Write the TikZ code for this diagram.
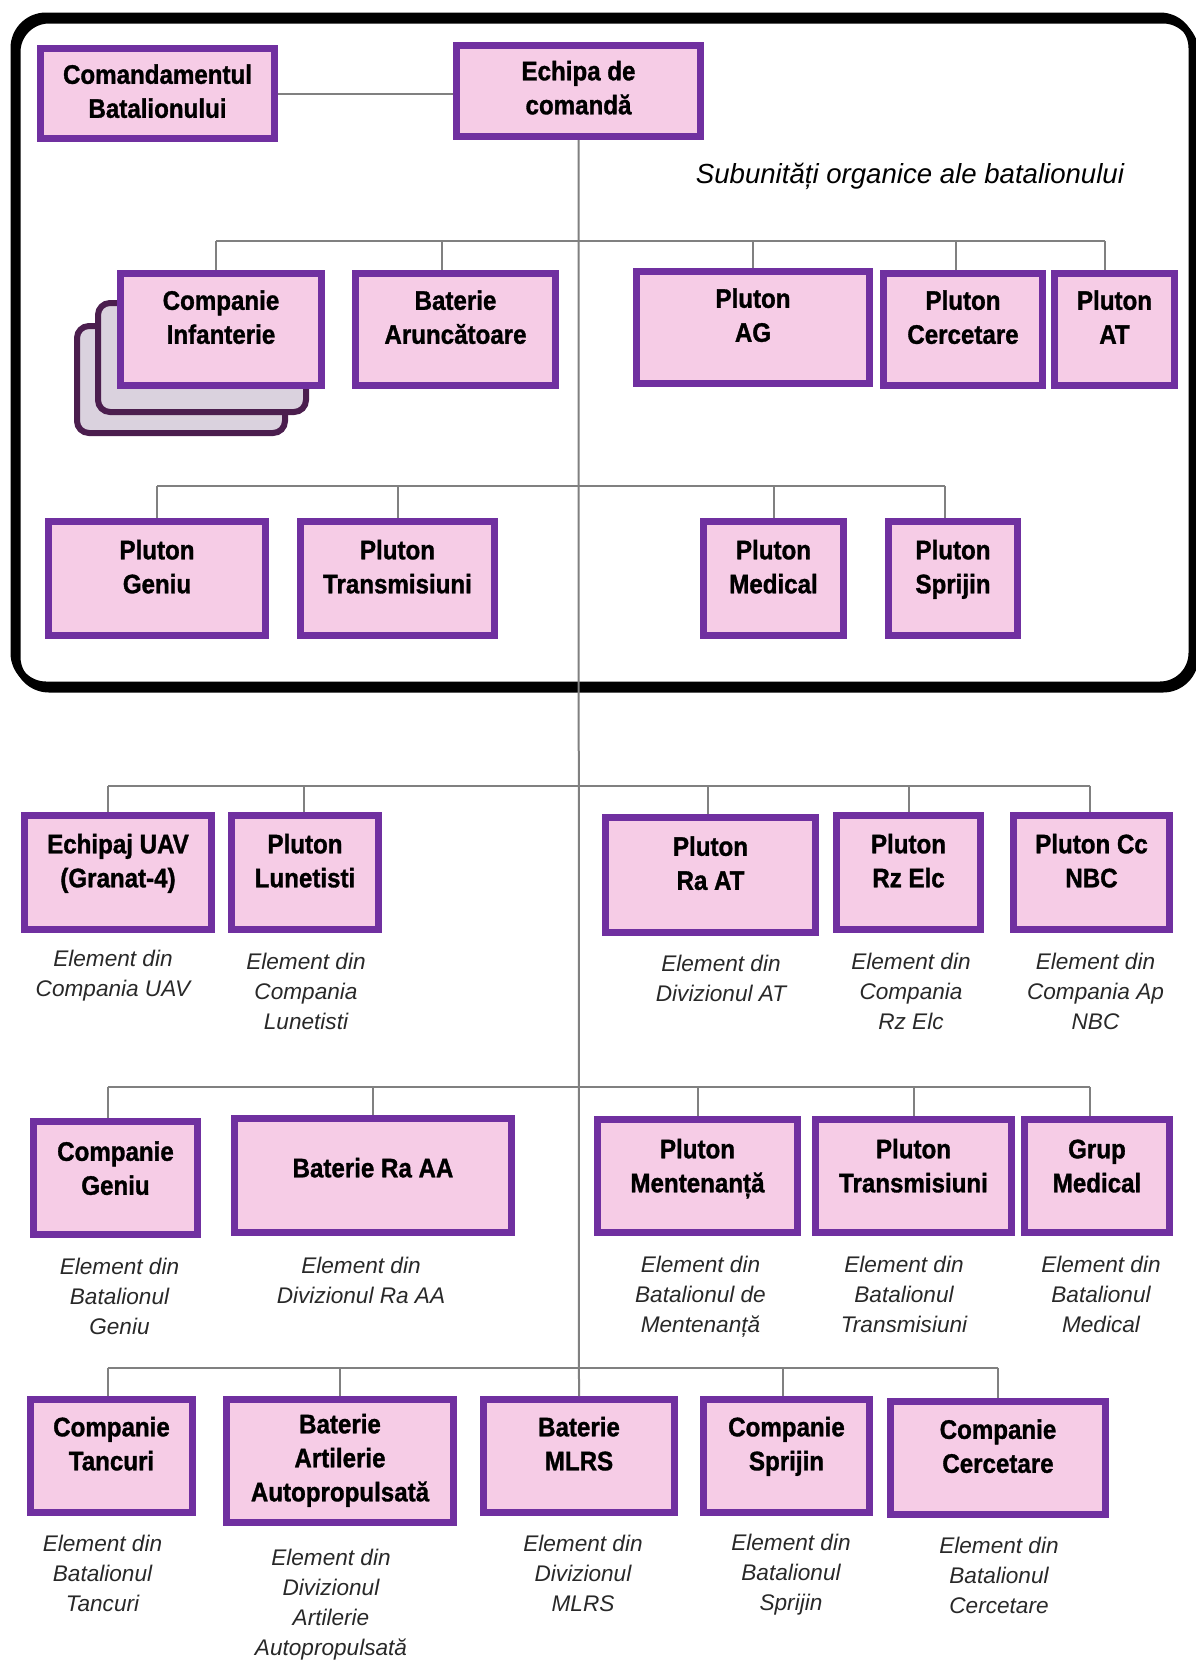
\documentclass[tikz,border=0pt]{standalone}
\usepackage{fontspec}
\setmainfont{Liberation Sans}
\newfontfamily\boxfont{Liberation Sans Bold}[FakeStretch=0.9, FakeBold=1.2]
\definecolor{boxpurple}{RGB}{112,48,160}
\definecolor{boxpink}{RGB}{246,204,230}
\definecolor{conncol}{RGB}{128,128,128}
\definecolor{cardborder}{RGB}{75,30,78}
\definecolor{cardfill}{RGB}{218,210,222}
\definecolor{captcol}{RGB}{40,40,40}
\tikzset{
  ubx/.style={draw=boxpurple, fill=boxpink, line width=3.5pt, inner sep=0pt},
  utx/.style={font=\boxfont\fontsize{13.4}{17}\selectfont, align=center, inner sep=0pt, text=black},
  captxt/.style={font=\itshape\fontsize{11.3}{15}\selectfont, align=center, inner sep=0pt, text=captcol},
  conn/.style={draw=conncol, line width=1pt},
  stackcard/.style={draw=cardborder, fill=cardfill, line width=3pt, rounded corners=6pt},
  outerframe/.style={draw=black, line width=3.5pt, rounded corners=16pt}
}
\newcommand\ubox[7]{%
  \node[ubx, minimum width={(#4-#2-7)*0.5pt}, minimum height={(#5-#3-7)*0.5pt}] (#1) at ({(#2+#4)/2},{(#3+#5)/2}) {};
  \node[utx] (#1t) at ({(#2+#4)/2},{#6+3}) {\strut#7\strut};
}
\begin{document}
\begin{tikzpicture}[x=0.5pt,y=-0.5pt]
\useasboundingbox (0,0) rectangle (1195,1660);
% frame with shadow
\draw[outerframe] (17,20) rectangle (1195,689);
\draw[outerframe] (14,16) rectangle (1192,685);
% stacked cards behind Companie Infanterie
\draw[stackcard] (77,326) rectangle (285,433);
\draw[stackcard] (98,303) rectangle (306,412);
% row 0
\ubox{cmd}{37}{45}{278}{142}{91}{Comandamentul\\Batalionului}
\ubox{ech}{453}{42}{704}{140}{87.5}{Echipa de\\comandă}
\node[font=\itshape\fontsize{13.8}{16}\selectfont, inner sep=0pt] (title) at (910,176) {Subunități organice ale batalionului};
% row 1
\ubox{cinf}{117}{270}{325}{389}{317}{Companie\\Infanterie}
\ubox{batar}{352}{270}{559}{389}{317}{Baterie\\Aruncătoare}
\ubox{plag}{633}{268}{873}{387}{315}{Pluton\\AG}
\ubox{plcerc}{880}{270}{1046}{389}{317}{Pluton\\Cercetare}
\ubox{plat}{1051}{270}{1178}{389}{317}{Pluton\\AT}
% row 2
\ubox{plgen}{45}{518}{269}{639}{566.5}{Pluton\\Geniu}
\ubox{pltr}{297}{518}{498}{639}{566.5}{Pluton\\Transmisiuni}
\ubox{plmed}{700}{518}{847}{639}{566.5}{Pluton\\Medical}
\ubox{plspr}{885}{518}{1021}{639}{566.5}{Pluton\\Sprijin}
% row 3
\ubox{uav}{21}{812}{215}{933}{860.5}{Echipaj UAV\\(Granat-4)}
\ubox{lun}{228}{812}{382}{933}{860.5}{Pluton\\Lunetisti}
\ubox{raat}{602}{814}{819}{936}{863}{Pluton\\Ra AT}
\ubox{rzelc}{833}{812}{984}{933}{860.5}{Pluton\\Rz Elc}
\ubox{nbc}{1010}{812}{1173}{933}{860.5}{Pluton Cc\\NBC}
% row 4
\ubox{cgen}{30}{1118}{201}{1238}{1168}{Companie\\Geniu}
\ubox{raaa}{231}{1115}{515}{1236}{1167.5}{Baterie Ra AA}
\ubox{ment}{594}{1116}{801}{1236}{1165.5}{Pluton\\Mentenanță}
\ubox{tr2}{812}{1116}{1015}{1236}{1165.5}{Pluton\\Transmisiuni}
\ubox{gmed}{1021}{1116}{1173}{1236}{1165.5}{Grup\\Medical}
% row 5
\ubox{tanc}{27}{1396}{196}{1516}{1443.5}{Companie\\Tancuri}
\ubox{art}{223}{1396}{457}{1526}{1457.5}{Baterie\\Artilerie\\Autopropulsată}
\ubox{mlrs}{480}{1396}{678}{1516}{1443.5}{Baterie\\MLRS}
\ubox{cspr}{700}{1396}{873}{1516}{1443.5}{Companie\\Sprijin}
\ubox{ccerc}{887}{1398}{1109}{1518}{1446}{Companie\\Cercetare}
% captions
\node[captxt] (uavc) at (113,975.5) {Element din\\Compania UAV};
\node[captxt] (lunc) at (306,991) {Element din\\Compania\\Lunetisti};
\node[captxt] (raatc) at (721,978) {Element din\\Divizionul AT};
\node[captxt] (rzelcc) at (911,991) {Element din\\Compania\\Rz Elc};
\node[captxt] (nbcc) at (1095.5,991) {Element din\\Compania Ap\\NBC};
\node[captxt] (cgenc) at (119.5,1296.5) {Element din\\Batalionul\\Geniu};
\node[captxt] (raaac) at (361,1280) {Element din\\Divizionul Ra AA};
\node[captxt] (mentc) at (700.5,1296.5) {Element din\\Batalionul de\\Mentenanță};
\node[captxt] (tr2c) at (904,1294.5) {Element din\\Batalionul\\Transmisiuni};
\node[captxt] (gmedc) at (1101,1294.5) {Element din\\Batalionul\\Medical};
\node[captxt] (tancc) at (102.5,1573) {Element din\\Batalionul\\Tancuri};
\node[captxt] (artc) at (331,1604.5) {Element din\\Divizionul\\Artilerie\\Autopropulsată};
\node[captxt] (mlrsc) at (583,1573) {Element din\\Divizionul\\MLRS};
\node[captxt] (csprc) at (791,1575) {Element din\\Batalionul\\Sprijin};
\node[captxt] (ccercc) at (999,1575) {Element din\\Batalionul\\Cercetare};
% bus coordinates
\coordinate (bus1) at (580,241);
\coordinate (bus2) at (580,486);
\coordinate (bus3) at (580,785.5);
\coordinate (bus4) at (580,1087);
\coordinate (bus5) at (580,1367.5);
% connectors
\draw[conn] (cmd.east) -- (cmd.east -| ech.west);
\draw[conn] (ech.south) -- (mlrs.north);
% row 1
\draw[conn] ([xshift=-2.5pt]cinf.north |- bus1) -- ([xshift=-5pt]plat.north |- bus1);
\draw[conn] ([xshift=-2.5pt]cinf.north |- bus1) -- ([xshift=-2.5pt]cinf.north);
\draw[conn] ([xshift=-7pt]batar.north |- bus1) -- ([xshift=-7pt]batar.north);
\draw[conn] (plag.north |- bus1) -- (plag.north);
\draw[conn] ([xshift=-3.5pt]plcerc.north |- bus1) -- ([xshift=-3.5pt]plcerc.north);
\draw[conn] ([xshift=-5pt]plat.north |- bus1) -- ([xshift=-5pt]plat.north);
% row 2
\draw[conn] (plgen.north |- bus2) -- ([xshift=-4pt]plspr.north |- bus2);
\draw[conn] (plgen.north |- bus2) -- (plgen.north);
\draw[conn] (pltr.north |- bus2) -- (pltr.north);
\draw[conn] (plmed.north |- bus2) -- (plmed.north);
\draw[conn] ([xshift=-4pt]plspr.north |- bus2) -- ([xshift=-4pt]plspr.north);
% row 3
\draw[conn] ([xshift=-5pt]uav.north |- bus3) -- ([xshift=-1pt]nbc.north |- bus3);
\draw[conn] ([xshift=-5pt]uav.north |- bus3) -- ([xshift=-5pt]uav.north);
\draw[conn] ([xshift=-0.5pt]lun.north |- bus3) -- ([xshift=-0.5pt]lun.north);
\draw[conn] ([xshift=-1.5pt]raat.north |- bus3) -- ([xshift=-1.5pt]raat.north);
\draw[conn] (rzelc.north |- bus3) -- (rzelc.north);
\draw[conn] ([xshift=-1pt]nbc.north |- bus3) -- ([xshift=-1pt]nbc.north);
% row 4
\draw[conn] ([xshift=-4pt]cgen.north |- bus4) -- ([xshift=-3.5pt]gmed.north |- bus4);
\draw[conn] ([xshift=-4pt]cgen.north |- bus4) -- ([xshift=-4pt]cgen.north);
\draw[conn] (raaa.north |- bus4) -- (raaa.north);
\draw[conn] (ment.north |- bus4) -- (ment.north);
\draw[conn] (tr2.north |- bus4) -- (tr2.north);
\draw[conn] ([xshift=-3.5pt]gmed.north |- bus4) -- ([xshift=-3.5pt]gmed.north);
% row 5
\draw[conn] ([xshift=-2pt]tanc.north |- bus5) -- (ccerc.north |- bus5);
\draw[conn] ([xshift=-2pt]tanc.north |- bus5) -- ([xshift=-2pt]tanc.north);
\draw[conn] (art.north |- bus5) -- (art.north);
\draw[conn] ([xshift=-2pt]cspr.north |- bus5) -- ([xshift=-2pt]cspr.north);
\draw[conn] (ccerc.north |- bus5) -- (ccerc.north);
\end{tikzpicture}
\end{document}
